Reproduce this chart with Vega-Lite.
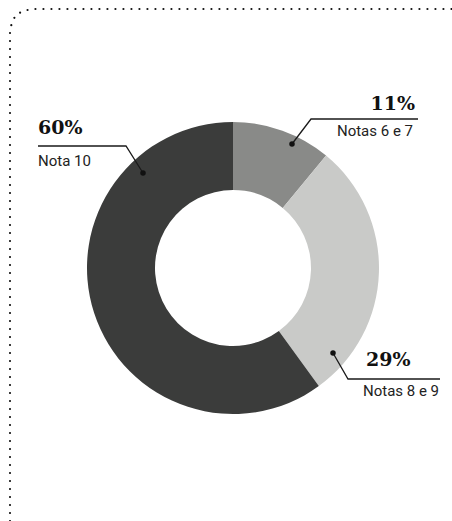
{
  "$schema": "https://vega.github.io/schema/vega-lite/v6.json",
  "autosize": {"type": "none"},
  "width": 438,
  "height": 506,
  "padding": {"left": 14, "right": 0, "top": 15, "bottom": 0},
  "background": "white",
  "config": {"view": {"stroke": null}},
  "datasets": {
    "slices": [
      {"label": "Notas 6 e 7", "value": 11, "ord": 1},
      {"label": "Notas 8 e 9", "value": 29, "ord": 2},
      {"label": "Nota 10", "value": 60, "ord": 3}
    ],
    "leaders": [
      {"g": "a", "ord": 1, "x": -195, "y": -122},
      {"g": "a", "ord": 2, "x": -107, "y": -122},
      {"g": "a", "ord": 3, "x": -90, "y": -95},
      {"g": "b", "ord": 1, "x": 185, "y": -149},
      {"g": "b", "ord": 2, "x": 78, "y": -149},
      {"g": "b", "ord": 3, "x": 59, "y": -124},
      {"g": "c", "ord": 1, "x": 100, "y": 85},
      {"g": "c", "ord": 2, "x": 115, "y": 111},
      {"g": "c", "ord": 3, "x": 207, "y": 111}
    ],
    "dots": [
      {"x": -90, "y": -95},
      {"x": 59, "y": -124},
      {"x": 100, "y": 85}
    ],
    "labels": [
      {"kind": "pct", "side": "left", "text": "60%", "x": -195, "y": -134},
      {"kind": "name", "side": "left", "text": "Nota 10", "x": -195, "y": -102},
      {"kind": "pct", "side": "right", "text": "11%", "x": 182, "y": -158},
      {"kind": "name", "side": "right", "text": "Notas 6 e 7", "x": 180, "y": -132},
      {"kind": "pct", "side": "left", "text": "29%", "x": 133, "y": 98},
      {"kind": "name", "side": "left", "text": "Notas 8 e 9", "x": 130, "y": 128}
    ],
    "border": [
      {"ord": 1, "x": -223, "y": 253},
      {"ord": 2, "x": -223, "y": -237},
      {"ord": 3, "x": -221, "y": -246},
      {"ord": 4, "x": -217, "y": -253},
      {"ord": 5, "x": -210, "y": -257},
      {"ord": 6, "x": -201, "y": -259},
      {"ord": 7, "x": 219, "y": -259}
    ]
  },
  "layer": [
    {
      "data": {"name": "slices"},
      "mark": {"type": "arc", "outerRadius": 146, "innerRadius": 78},
      "encoding": {
        "theta": {"field": "value", "type": "quantitative", "stack": true},
        "order": {"field": "ord", "type": "quantitative"},
        "color": {
          "field": "label",
          "type": "nominal",
          "scale": {"domain": ["Notas 6 e 7", "Notas 8 e 9", "Nota 10"], "range": ["#898a88", "#c9cac8", "#3b3c3b"]},
          "legend": null
        }
      }
    },
    {
      "data": {"name": "border"},
      "mark": {"type": "line", "stroke": "#111", "strokeWidth": 2.2, "strokeDash": [0, 8], "strokeCap": "round", "clip": false},
      "encoding": {
        "x": {"field": "x", "type": "quantitative", "scale": {"domain": [-219, 219], "nice": false, "zero": false}, "axis": null},
        "y": {"field": "y", "type": "quantitative", "scale": {"domain": [-253, 253], "nice": false, "zero": false, "reverse": true}, "axis": null},
        "order": {"field": "ord", "type": "quantitative"}
      }
    },
    {
      "data": {"name": "leaders"},
      "mark": {"type": "line", "stroke": "#1a1a1a", "strokeWidth": 1.3, "clip": false},
      "encoding": {
        "x": {"field": "x", "type": "quantitative"},
        "y": {"field": "y", "type": "quantitative"},
        "detail": {"field": "g"},
        "order": {"field": "ord", "type": "quantitative"}
      }
    },
    {
      "data": {"name": "dots"},
      "mark": {"type": "point", "filled": true, "color": "#111", "size": 30, "opacity": 1},
      "encoding": {
        "x": {"field": "x", "type": "quantitative"},
        "y": {"field": "y", "type": "quantitative"}
      }
    },
    {
      "data": {"name": "labels"},
      "transform": [{"filter": "datum.kind == 'pct' && datum.side == 'left'"}],
      "mark": {"type": "text", "align": "left", "baseline": "alphabetic", "font": "DejaVu Serif", "fontWeight": "bold", "fontSize": 19, "color": "#111"},
      "encoding": {
        "x": {"field": "x", "type": "quantitative"},
        "y": {"field": "y", "type": "quantitative"},
        "text": {"field": "text"}
      }
    },
    {
      "data": {"name": "labels"},
      "transform": [{"filter": "datum.kind == 'pct' && datum.side == 'right'"}],
      "mark": {"type": "text", "align": "right", "baseline": "alphabetic", "font": "DejaVu Serif", "fontWeight": "bold", "fontSize": 19, "color": "#111"},
      "encoding": {
        "x": {"field": "x", "type": "quantitative"},
        "y": {"field": "y", "type": "quantitative"},
        "text": {"field": "text"}
      }
    },
    {
      "data": {"name": "labels"},
      "transform": [{"filter": "datum.kind == 'name' && datum.side == 'left'"}],
      "mark": {"type": "text", "align": "left", "baseline": "alphabetic", "font": "Roboto", "fontSize": 15, "color": "#222"},
      "encoding": {
        "x": {"field": "x", "type": "quantitative"},
        "y": {"field": "y", "type": "quantitative"},
        "text": {"field": "text"}
      }
    },
    {
      "data": {"name": "labels"},
      "transform": [{"filter": "datum.kind == 'name' && datum.side == 'right'"}],
      "mark": {"type": "text", "align": "right", "baseline": "alphabetic", "font": "Roboto", "fontSize": 15, "color": "#222"},
      "encoding": {
        "x": {"field": "x", "type": "quantitative"},
        "y": {"field": "y", "type": "quantitative"},
        "text": {"field": "text"}
      }
    }
  ]
}
